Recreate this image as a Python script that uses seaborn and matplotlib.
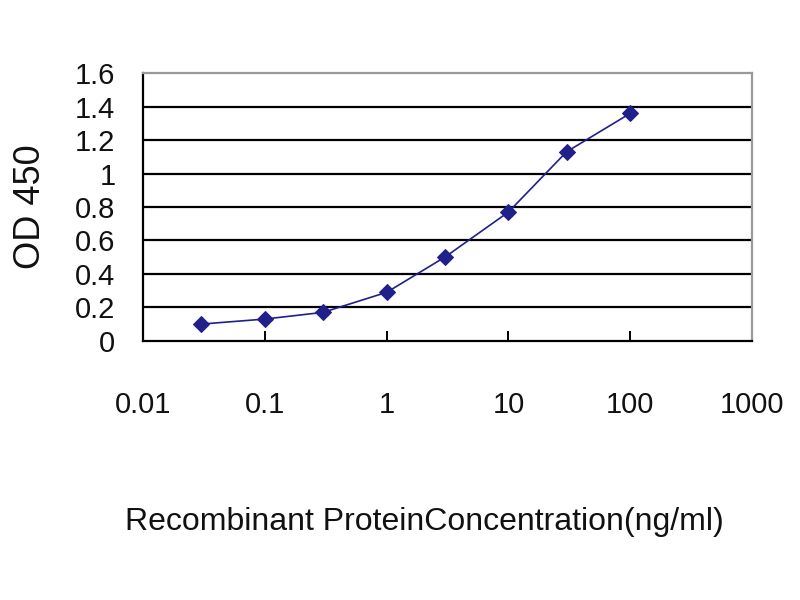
import matplotlib
matplotlib.use("Agg")
import matplotlib.pyplot as plt
import seaborn as sns
import pandas as pd

# ─── Data ─────────────────────────────────────────────────────────────────────
concentration = [0.03, 0.1, 0.3, 1, 3, 10, 30, 100]
od450 = [0.10, 0.13, 0.17, 0.29, 0.50, 0.77, 1.13, 1.36]
x_ticks = [0.01, 0.1, 1, 10, 100, 1000]
x_tick_labels = ["0.01", "0.1", "1", "10", "100", "1000"]
y_ticks = [0, 0.2, 0.4, 0.6, 0.8, 1.0, 1.2, 1.4, 1.6]
y_tick_labels = ["0", "0.2", "0.4", "0.6", "0.8", "1", "1.2", "1.4", "1.6"]

df = pd.DataFrame({"conc": concentration, "od": od450})

sns.set_style("white")
plt.rcParams["font.family"] = ["Liberation Sans", "DejaVu Sans"]

fig = plt.figure(figsize=(8, 6), dpi=100)
ax = fig.add_axes([0.179, 0.432, 0.761, 0.446])

sns.lineplot(data=df, x="conc", y="od", ax=ax, color="#20208a",
             lw=1.2, marker="D", markersize=8, markeredgecolor="#20208a")

ax.set_xscale("log")
ax.set_xlim(0.01, 1000)
ax.set_ylim(0, 1.6)
ax.set_xticks(x_ticks)
ax.set_xticklabels(x_tick_labels)
ax.minorticks_off()
ax.set_yticks(y_ticks)
ax.set_yticklabels(y_tick_labels)

# horizontal gridlines
for yv in y_ticks[1:-1]:
    ax.axhline(yv, color="black", lw=1.6, zorder=0)

for side in ["left", "bottom"]:
    ax.spines[side].set_color("black")
    ax.spines[side].set_linewidth(1.6)
for side in ["top", "right"]:
    ax.spines[side].set_color("#9a9a9a")
    ax.spines[side].set_linewidth(1.6)

ax.tick_params(axis="x", direction="in", length=7, width=1.4, color="black",
               labelsize=21, labelcolor="#111111", pad=36, bottom=True)
ax.tick_params(axis="y", length=0, labelsize=21, labelcolor="#111111", pad=20)

ax.set_xlabel("")
ax.set_ylabel("")
fig.text(0.53, 0.13, "Recombinant ProteinConcentration(ng/ml)", fontsize=23,
         color="#111111", ha="center", va="center")
fig.text(0.038, 0.655, "OD 450", fontsize=26, color="#111111",
         rotation=90, ha="center", va="center")

fig.savefig("out.png", dpi=100)
